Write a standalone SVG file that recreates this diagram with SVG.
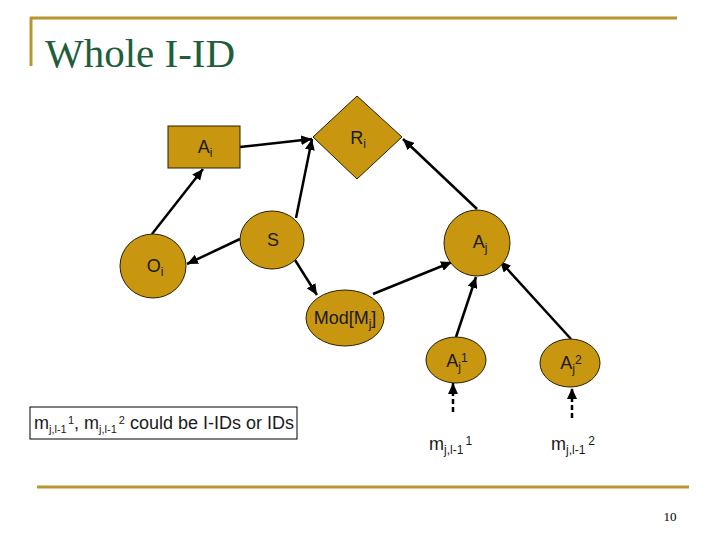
<svg xmlns="http://www.w3.org/2000/svg" width="720" height="540" viewBox="0 0 720 540">
<defs>
<marker id="ah" markerUnits="userSpaceOnUse" markerWidth="12" markerHeight="10" refX="11" refY="5" orient="auto">
<path d="M0,0 L11,5 L0,10 Z" fill="#000"/>
</marker>
<style>
.n{fill:#C8960F;stroke:#2a1e00;stroke-width:1}
.t{font-family:"Liberation Sans",Arial,sans-serif;font-size:18px;fill:#1a1a1a;text-anchor:middle}
.e{stroke:#000;stroke-width:2.5;fill:none;marker-end:url(#ah)}
.d{stroke:#000;stroke-width:2.5;fill:none;stroke-dasharray:5,3;marker-end:url(#ah)}
.s{font-size:12px}
.ss{font-size:11px}
</style>
</defs>
<rect width="720" height="540" fill="#fff"/>
<g id="frame">
<line x1="30" y1="18" x2="677" y2="18" stroke="#B8962E" stroke-width="3"/>
<line x1="31" y1="17" x2="31" y2="66" stroke="#B8962E" stroke-width="3"/>
<line x1="37" y1="487" x2="689" y2="487" stroke="#B8962E" stroke-width="3"/>
<text x="45" y="67" font-family="'Liberation Serif','Times New Roman',serif" font-size="41" fill="#1E5E3A">Whole I-ID</text>
<text x="670" y="521" font-family="'Liberation Serif','Times New Roman',serif" font-size="13" fill="#000" text-anchor="middle">10</text>
</g>
<g id="connectors">
<line class="e" x1="240" y1="147" x2="312" y2="139"/>
<line class="e" x1="152" y1="234" x2="203" y2="169"/>
<line class="e" x1="296" y1="218" x2="312" y2="139"/>
<line class="e" x1="240" y1="239" x2="187" y2="264"/>
<line class="e" x1="295" y1="260" x2="317" y2="295"/>
<line class="e" x1="373" y1="294" x2="452" y2="262"/>
<line class="e" x1="477" y1="209" x2="403" y2="139"/>
<line class="e" x1="456" y1="337" x2="476" y2="277"/>
<line class="e" x1="571" y1="339" x2="500" y2="261"/>
<line class="d" x1="453" y1="412" x2="453" y2="383"/>
<line class="d" x1="572" y1="418" x2="572" y2="388"/>
</g>
<g id="Ai">
<rect class="n" x="168" y="126" width="72" height="42"/>
<text class="t" x="205" y="153">A<tspan class="s" dy="4">i</tspan></text>
</g>
<g id="Ri">
<polygon class="n" points="357,96 402,137 357,179 313,137"/>
<text class="t" x="358" y="144">R<tspan class="s" dy="4">i</tspan></text>
</g>
<g id="S">
<ellipse class="n" cx="272" cy="240" rx="32" ry="29"/>
<text class="t" x="273" y="246">S</text>
</g>
<g id="Oi">
<ellipse class="n" cx="153" cy="266" rx="33" ry="32"/>
<text class="t" x="155" y="272">O<tspan class="s" dy="4">i</tspan></text>
</g>
<g id="Aj">
<ellipse class="n" cx="477" cy="243" rx="33" ry="33"/>
<text class="t" x="480" y="248">A<tspan class="s" dy="4">j</tspan></text>
</g>
<g id="ModMj">
<ellipse class="n" cx="345" cy="318" rx="39" ry="28"/>
<text class="t" x="345" y="324">Mod[M<tspan class="s" dy="4">j</tspan><tspan dy="-4">]</tspan></text>
</g>
<g id="Aj1">
<ellipse class="n" cx="456" cy="360" rx="30" ry="23"/>
<text class="t" x="457" y="367">A<tspan class="s" dy="4">j</tspan><tspan class="s" dy="-9">1</tspan></text>
</g>
<g id="Aj2">
<ellipse class="n" cx="570" cy="363" rx="30" ry="24"/>
<text class="t" x="571" y="369">A<tspan class="s" dy="4">j</tspan><tspan class="s" dy="-9">2</tspan></text>
</g>
<g id="m1">
<text class="t" x="429" y="450" style="text-anchor:start">m<tspan class="s" dy="4">j,l-1</tspan><tspan class="s" dy="-9" dx="3">1</tspan></text>
</g>
<g id="m2">
<text class="t" x="551" y="450" style="text-anchor:start">m<tspan class="s" dy="4">j,l-1</tspan><tspan class="s" dy="-9" dx="3">2</tspan></text>
</g>
<g id="note">
<rect x="30" y="407" width="267" height="32" fill="#fff" stroke="#000" stroke-width="1"/>
<text class="t" x="34" y="429" style="text-anchor:start">m<tspan class="ss" dy="4">j,l-1</tspan><tspan class="ss" dy="-9" dx="2">1</tspan><tspan dy="5">, m</tspan><tspan class="ss" dy="4">j,l-1</tspan><tspan class="ss" dy="-9" dx="2">2</tspan><tspan dy="5"> could be I-IDs or IDs</tspan></text>
</g>
</svg>
